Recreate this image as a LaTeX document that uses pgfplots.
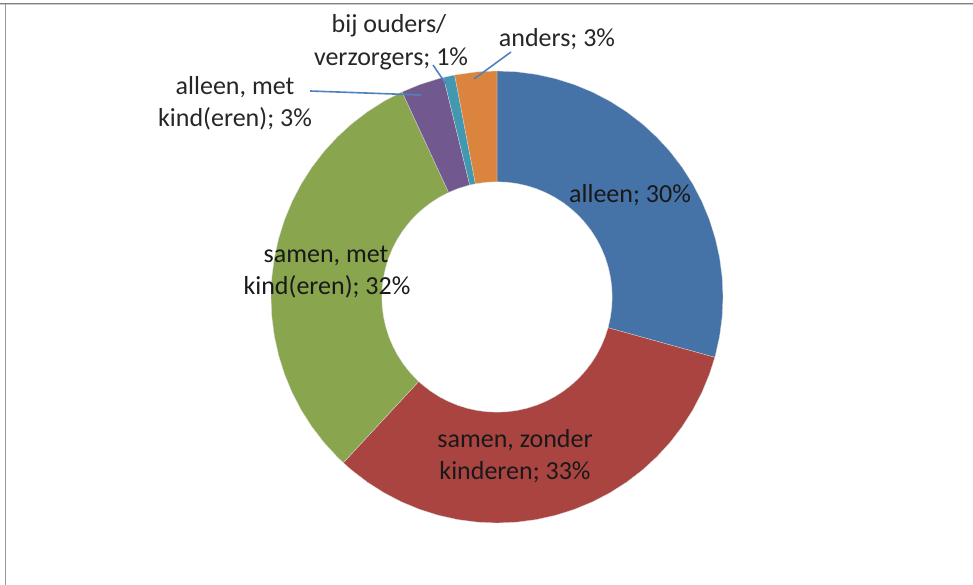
\documentclass[border=0pt]{standalone}
\usepackage{fontspec}
\setmainfont{Carlito}
\usepackage{pgfplots}
\pgfplotsset{compat=1.18}
\usepgfplotslibrary{polar}
\definecolor{cBlue}{RGB}{69,114,167}
\definecolor{cRed}{RGB}{170,68,65}
\definecolor{cGreen}{RGB}{137,165,78}
\definecolor{cPurple}{RGB}{113,89,143}
\definecolor{cTeal}{RGB}{66,152,176}
\definecolor{cOrange}{RGB}{219,132,61}
\definecolor{cLead}{RGB}{79,129,189}
\begin{document}
\begin{tikzpicture}[x=1bp,y=1bp]
\path[use as bounding box] (0,0) rectangle (973,585);
% frame
\draw[color=black!50, line width=1.3bp] (0,581.6) -- (973,581.6);
\draw[color=black!20, line width=1bp] (0,580.5) -- (973,580.5);
\draw[color=black!40, line width=1.2bp] (5.5,0) -- (5.5,581);
% values (percent): alleen 29.3, samen zonder kinderen 32.6, samen met kind(eren) 31.2,
% alleen met kind(eren) 3.1, bij ouders/verzorgers 0.8, anders 3.0 -> angles clockwise from 12 o'clock
\begin{polaraxis}[
  at={(497bp,288bp)}, anchor=center,
  scale only axis, width=452bp, height=452bp,
  hide axis, clip=false,
  xmin=-270, xmax=90, ymin=0, ymax=1,
  every axis plot/.append style={draw=white!70!gray, line width=0.3bp},
]
% alleen 29.3%
\addplot[fill=cBlue] coordinates {
(90,1)(85,1)(80,1)(75,1)(70,1)(65,1)(60,1)(55,1)(50,1)(45,1)(40,1)(35,1)(30,1)(25,1)(20,1)(15,1)(10,1)(5,1)(0,1)(-5,1)(-10,1)(-15,1)(-15.48,1)
(-15.48,0.51)(-15,0.51)(-10,0.51)(-5,0.51)(0,0.51)(5,0.51)(10,0.51)(15,0.51)(20,0.51)(25,0.51)(30,0.51)(35,0.51)(40,0.51)(45,0.51)(50,0.51)(55,0.51)(60,0.51)(65,0.51)(70,0.51)(75,0.51)(80,0.51)(85,0.51)(90,0.51)(90,1)};
% samen, zonder kinderen 32.6%
\addplot[fill=cRed] coordinates {
(-15.48,1)(-20,1)(-25,1)(-30,1)(-35,1)(-40,1)(-45,1)(-50,1)(-55,1)(-60,1)(-65,1)(-70,1)(-75,1)(-80,1)(-85,1)(-90,1)(-95,1)(-100,1)(-105,1)(-110,1)(-115,1)(-120,1)(-125,1)(-130,1)(-132.84,1)
(-132.84,0.51)(-130,0.51)(-125,0.51)(-120,0.51)(-115,0.51)(-110,0.51)(-105,0.51)(-100,0.51)(-95,0.51)(-90,0.51)(-85,0.51)(-80,0.51)(-75,0.51)(-70,0.51)(-65,0.51)(-60,0.51)(-55,0.51)(-50,0.51)(-45,0.51)(-40,0.51)(-35,0.51)(-30,0.51)(-25,0.51)(-20,0.51)(-15.48,0.51)(-15.48,1)};
% samen, met kind(eren) 31.2%
\addplot[fill=cGreen] coordinates {
(-132.84,1)(-135,1)(-140,1)(-145,1)(-150,1)(-155,1)(-160,1)(-165,1)(-170,1)(-175,1)(-180,1)(-185,1)(-190,1)(-195,1)(-200,1)(-205,1)(-210,1)(-215,1)(-220,1)(-225,1)(-230,1)(-235,1)(-240,1)(-245,1)(-245.16,1)
(-245.16,0.51)(-245,0.51)(-240,0.51)(-235,0.51)(-230,0.51)(-225,0.51)(-220,0.51)(-215,0.51)(-210,0.51)(-205,0.51)(-200,0.51)(-195,0.51)(-190,0.51)(-185,0.51)(-180,0.51)(-175,0.51)(-170,0.51)(-165,0.51)(-160,0.51)(-155,0.51)(-150,0.51)(-145,0.51)(-140,0.51)(-135,0.51)(-132.84,0.51)(-132.84,1)};
% alleen, met kind(eren) 3.1%
\addplot[fill=cPurple] coordinates {
(-245.16,1)(-250,1)(-255,1)(-256.32,1)
(-256.32,0.51)(-255,0.51)(-250,0.51)(-245.16,0.51)(-245.16,1)};
% bij ouders/verzorgers 0.8%
\addplot[fill=cTeal] coordinates {
(-256.32,1)(-259.2,1)(-259.2,0.51)(-256.32,0.51)(-256.32,1)};
% anders 3.0%
\addplot[fill=cOrange] coordinates {
(-259.2,1)(-265,1)(-270,1)(-270,0.51)(-265,0.51)(-259.2,0.51)(-259.2,1)};
\end{polaraxis}
% leader lines
\draw[cLead, line width=1.6bp] (511,533) -- (474,506);
\draw[cLead, line width=1.6bp] (433,520) -- (446,501);
\draw[cLead, line width=1.6bp] (310,494) -- (421,490);
% labels
\begin{scope}[every node/.style={inner sep=0pt, anchor=base, font=\fontsize{26bp}{32bp}\selectfont}]
\node[text=black!90] at (630,382) {alleen; 30\%};
\node[text=black!90] at (515,137) {samen, zonder};
\node[text=black!90] at (515,105) {kinderen; 33\%};
\node[text=black!90] at (326,322) {samen, met};
\node[text=black!90] at (327,290) {kind(eren); 32\%};
\node[text=black!85] at (235,490) {alleen, met};
\node[text=black!85] at (235,458) {kind(eren); 3\%};
\node[text=black!85] at (389,552) {bij ouders/};
\node[text=black!85] at (391,519) {verzorgers; 1\%};
\node[text=black!85] at (557,538) {anders; 3\%};
\end{scope}
\end{tikzpicture}
\end{document}
